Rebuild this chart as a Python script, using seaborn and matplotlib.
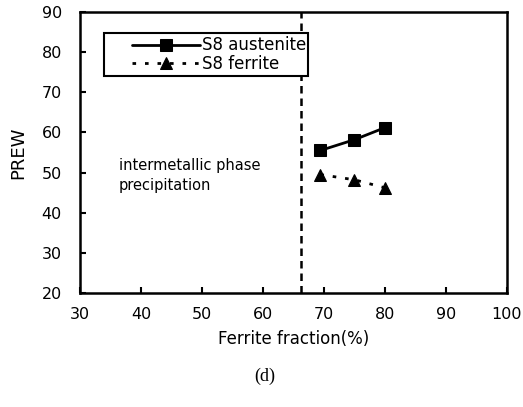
import matplotlib
matplotlib.use("Agg")
import matplotlib.pyplot as plt
from matplotlib.patches import Rectangle
import seaborn as sns
import pandas as pd

ferrite_fraction = [69.4, 75.0, 80.0]
prew_austenite = [55.5, 58.2, 61.2]
prew_ferrite = [49.5, 48.2, 46.2]
boundary_fraction = 66.3

x_ticks = [30, 40, 50, 60, 70, 80, 90, 100]
y_ticks = [20, 30, 40, 50, 60, 70, 80, 90]

sns.set_theme(style="white")
plt.rcParams["font.family"] = ["DejaVu Sans"]
plt.rcParams["text.color"] = "black"

df = pd.DataFrame({
    "Ferrite fraction(%)": ferrite_fraction * 2,
    "PREW": prew_austenite + prew_ferrite,
    "phase": ["S8 austenite"] * 3 + ["S8 ferrite"] * 3,
})

fig = plt.figure(figsize=(5.23, 4.07), dpi=100)
ax = fig.add_axes([80 / 523, 1 - 293 / 407, 427 / 523, 281 / 407])

sns.lineplot(
    data=df, x="Ferrite fraction(%)", y="PREW", hue="phase", style="phase",
    palette=["black", "black"], markers={"S8 austenite": "s", "S8 ferrite": "^"},
    dashes={"S8 austenite": "", "S8 ferrite": (1.3, 3.2)},
    markersize=9, linewidth=2, markeredgecolor="black", ax=ax, legend=True,
)

ax.axvline(boundary_fraction, color="black", linestyle=(0, (3.0, 2.0)), linewidth=1.8, zorder=1)

ax.text(36.4, 49.3, "intermetallic phase\nprecipitation", fontsize=10.5, va="center",
        ha="left", linespacing=1.45, color="black")

ax.set_xlim(30, 100)
ax.set_ylim(20, 90)
ax.set_xticks(x_ticks)
ax.set_yticks(y_ticks)
ax.tick_params(axis="both", direction="in", length=4, width=1.5, labelsize=11.5,
               colors="black", bottom=True, left=True)
ax.tick_params(axis="y", pad=13)
ax.tick_params(axis="x", pad=10)
ax.set_xlabel("Ferrite fraction(%)", fontsize=12, labelpad=6, color="black")
ax.set_ylabel("PREW", fontsize=13, labelpad=10, color="black")
for sp in ax.spines.values():
    sp.set_visible(True)
    sp.set_color("black")
    sp.set_linewidth(1.8)

# legend box drawn as its own patch so the padding around the entries can be set freely
box = Rectangle((0.0562, 0.772), 0.478, 0.153, transform=ax.transAxes,
                facecolor="white", edgecolor="black", linewidth=1.5, zorder=4)
ax.add_patch(box)

leg = ax.legend(loc="upper left", bbox_to_anchor=(0.1218, 0.913),
                frameon=False, fontsize=12, handlelength=4.1, handletextpad=0.12,
                borderpad=0, labelspacing=0.05, borderaxespad=0, labelcolor="black")
leg.set_zorder(5)

fig.text(265 / 523, 1 - 376 / 407, "(d)", fontsize=13, ha="center", va="center",
         color="black", family=["Liberation Serif", "DejaVu Serif"])

fig.savefig("out.png", dpi=100)
